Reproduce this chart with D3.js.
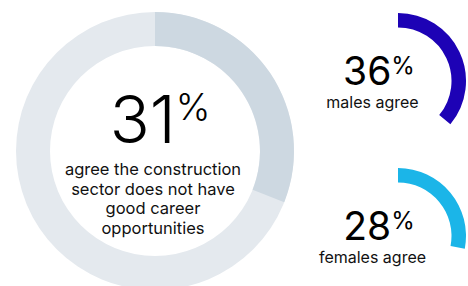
<!DOCTYPE html>
<html>
<head>
<meta charset="utf-8">
<script src="https://cdn.jsdelivr.net/npm/d3@7"></script>
<style>
  body { margin: 0; background: #fff; }
  svg { display: block; font-family: Inter, "Noto Sans", sans-serif; }
</style>
</head>
<body>
<div id="chart"></div>
<script>
// data
var mainValue = 31
var mainLabel = ["agree the construction", "sector does not have", "good career", "opportunities"]
var sideValues = [36, 28]
var sideLabels = ["males agree", "females agree"]
var sideColors = ["#1d02b5", "#1bb5e8"]

var width = 468, height = 286

var svg = d3.select("#chart")
    .append("svg")
        .attr("width", width)
        .attr("height", height)

var angle = d3.scaleLinear()
    .domain([0, 100])
    .range([0, 2 * Math.PI])

// big donut
var big = svg.append("g")
    .attr("transform", "translate(155,151)")

var bigArc = d3.arc()
    .innerRadius(105)
    .outerRadius(139)

big.append("path")
    .attr("d", bigArc({startAngle: 0, endAngle: angle(100)}))
    .attr("fill", "#e4e9ee")

big.append("path")
    .attr("d", bigArc({startAngle: 0, endAngle: angle(mainValue)}))
    .attr("fill", "#cdd8e1")

var bigNum = big.append("text")
    .attr("x", 5)
    .attr("y", -8)
    .attr("text-anchor", "middle")
    .attr("fill", "#000")
bigNum.append("tspan")
    .style("font-size", "66px")
    .style("font-weight", 350)
    .text(mainValue)
bigNum.append("tspan")
    .attr("dy", -23)
    .style("font-size", "37px")
    .style("font-weight", 350)
    .text("%")

big.selectAll(".cap")
    .data(mainLabel)
    .join("text")
    .attr("class", "cap")
    .attr("x", -2)
    .attr("y", function(d, i) { return 24 + i * 19.5 })
    .attr("text-anchor", "middle")
    .style("font-size", "16.5px")
    .attr("fill", "#111")
    .text(function(d) { return d })

// small arcs on the right
var smallArc = d3.arc()
    .innerRadius(53.5)
    .outerRadius(68)

var sideY = [81, 236]

var side = svg.selectAll(".side")
    .data(sideValues)
    .join("g")
    .attr("class", "side")
    .attr("transform", function(d, i) { return "translate(398," + sideY[i] + ")" })

side.append("path")
    .attr("d", function(d) { return smallArc({startAngle: 0, endAngle: angle(d)}) })
    .attr("fill", function(d, i) { return sideColors[i] })

var num = side.append("text")
    .attr("x", -19)
    .attr("y", 4)
    .attr("text-anchor", "middle")
    .attr("fill", "#000")
num.append("tspan")
    .style("font-size", "39px")
    .text(function(d) { return d })
num.append("tspan")
    .attr("dy", -11)
    .style("font-size", "24px")
    .text("%")

side.append("text")
    .attr("x", -25.5)
    .attr("y", 27)
    .attr("text-anchor", "middle")
    .style("font-size", "16px")
    .attr("fill", "#111")
    .text(function(d, i) { return sideLabels[i] })
</script>
</body>
</html>
